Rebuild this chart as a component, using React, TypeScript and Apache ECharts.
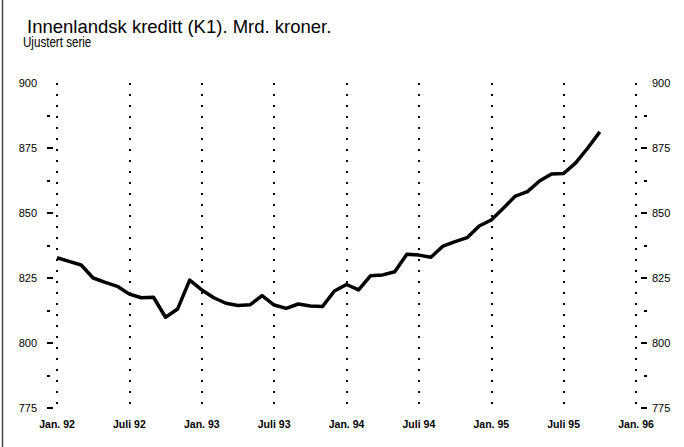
import React, { useEffect, useRef } from "react";
import * as echarts from "echarts";

const titleText = "Innenlandsk kreditt (K1). Mrd. kroner.";
const subtitleText = "Ujustert serie";

// Monthly categories Jan 92 .. Jan 96
const years = [92, 93, 94, 95, 96];
const months = years.flatMap((y) =>
  Array.from({ length: 12 }, (_, m) => `${y}-${String(m + 1).padStart(2, "0")}`)
).slice(0, 49);

const xTickLabels = [
  "Jan. 92", "Juli 92", "Jan. 93", "Juli 93", "Jan. 94",
  "Juli 94", "Jan. 95", "Juli 95", "Jan. 96",
];

// K1, Mrd. kroner, Jan 92 .. Oct 95
const credit = [
  832.8, 831.4, 830.0, 825.0, 823.3, 821.8, 818.8, 817.4, 817.6, 809.9, 813.1, 824.2,
  820.4, 817.4, 815.3, 814.4, 814.7, 818.2, 814.6, 813.3, 815.0, 814.2, 814.0, 820.0,
  822.5, 820.4, 825.9, 826.2, 827.4, 834.1, 833.8, 833.0, 837.3, 839.0, 840.5, 845.0,
  847.3, 851.8, 856.5, 858.2, 862.3, 865.0, 865.2, 869.3, 875.0, 881.2,
];

const yMin = 775;
const yMax = 900;
const yStep = 25;
const yMinorStep = 12.5;

export default function App() {
  const ref = useRef<HTMLDivElement>(null);
  useEffect(() => {
    document.body.style.margin = "0";
    if (!ref.current) return;
    const chart = echarts.init(ref.current, null, { renderer: "svg" });
    const font = "'Liberation Sans', Arial, sans-serif";
    const majorAxis = (position: "left" | "right", offset: number, margin: number) => ({
      type: "value" as const,
      min: yMin,
      max: yMax,
      interval: yStep,
      position,
      offset,
      splitLine: { show: false },
      axisLine: { show: false },
      axisTick: { show: true, length: 6, lineStyle: { color: "#000", width: 2 } },
      axisLabel: { margin, fontFamily: font, fontSize: 11, color: "#000" },
    });
    const minorAxis = (position: "left" | "right", offset: number) => ({
      type: "value" as const,
      min: yMin,
      max: yMax,
      interval: yMinorStep,
      position,
      offset,
      splitLine: { show: false },
      axisLine: { show: false },
      axisTick: { show: true, length: 3, lineStyle: { color: "#000", width: 2 } },
      axisLabel: { show: false },
    });
    chart.setOption({
      animation: false,
      backgroundColor: "#fff",
      title: [
        {
          text: titleText,
          left: 22,
          top: 12,
          textStyle: { fontFamily: font, fontSize: 18.5, fontWeight: "normal", color: "#000" },
        },
      ],
      grid: { left: 57, right: 48, top: 83, bottom: 39, outerBoundsMode: "none" },
      xAxis: {
        type: "category",
        data: months,
        boundaryGap: false,
        axisLine: { show: false },
        axisTick: { show: false },
        axisLabel: {
          interval: 5,
          margin: 10,
          fontFamily: font,
          fontSize: 10.5,
          fontWeight: "bold",
          color: "#000",
          formatter: (_v: string, i: number) => xTickLabels[Math.round(i / 6)] ?? "",
        },
        splitLine: {
          show: true,
          interval: 5,
          lineStyle: { color: "#000", width: 2, type: [2, 9] },
        },
      },
      yAxis: [
        majorAxis("left", 4, 16),
        majorAxis("right", 5, 11),
        minorAxis("left", 7),
        minorAxis("right", 8),
      ],
      series: [
        {
          type: "line",
          data: credit,
          symbol: "none",
          lineStyle: { color: "#000", width: 3.5, join: "round" },
        },
      ],
      graphic: [
        { type: "line", shape: { x1: 2.5, y1: 0, x2: 2.5, y2: 447 }, style: { stroke: "#444", lineWidth: 1.5 } },
        {
          type: "text",
          x: 23,
          y: 35,
          scaleX: 0.8,
          style: { text: subtitleText, font: `14.5px ${font}`, fill: "#000" },
        },
        { type: "rect", shape: { x: 44, y: 79, width: 11, height: 8 }, style: { fill: "#fff" }, z: 100 },
        { type: "rect", shape: { x: 639, y: 79, width: 11, height: 8 }, style: { fill: "#fff" }, z: 100 },
      ],
    });
    return () => chart.dispose();
  }, []);
  return <div ref={ref} style={{ width: 684, height: 447 }} />;
}
